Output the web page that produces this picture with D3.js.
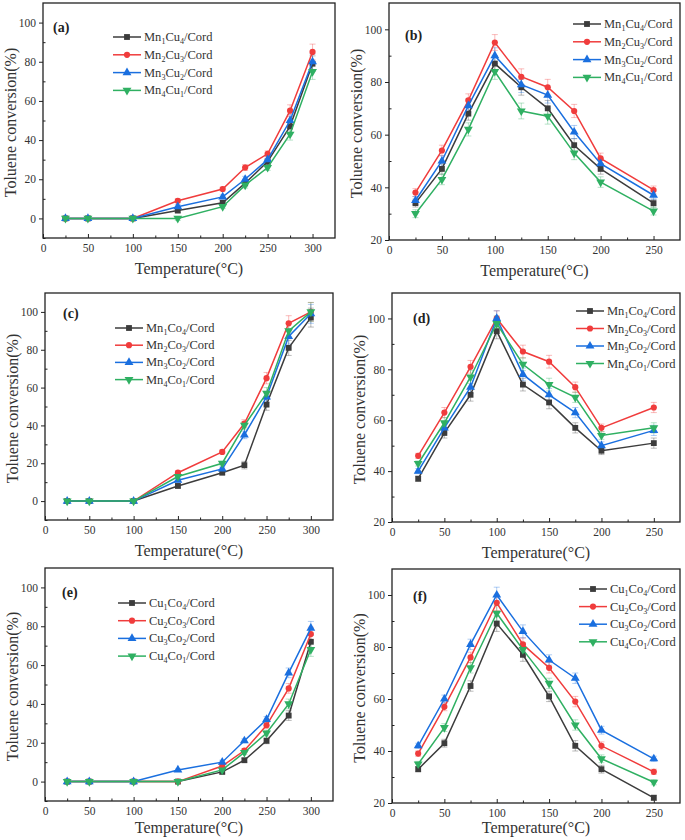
<!DOCTYPE html>
<html>
<head>
<meta charset="utf-8">
<script src="https://cdn.jsdelivr.net/npm/d3@7"></script>
<style>
  html, body { margin: 0; padding: 0; background: #fff; }
  svg { display: block; }
</style>
</head>
<body>
<svg id="chart" width="685" height="840"></svg>
<script>
// temperatures (°C)
const tempRise = [25, 50, 100, 150, 200, 225, 250, 275, 300];
const tempCycle = [25, 50, 75, 100, 125, 150, 175, 200, 250];

// (a) Mn-Cu, light-off
const aNames = ["Mn1Cu4/Cord", "Mn2Cu3/Cord", "Mn3Cu2/Cord", "Mn4Cu1/Cord"];
const aMn1Cu4 = [0, 0, 0, 4, 8, 18, 29, 47, 79];
const aMn2Cu3 = [0, 0, 0, 9, 15, 26, 33, 55, 85];
const aMn3Cu2 = [0, 0, 0, 6, 11, 20, 30, 50, 80];
const aMn4Cu1 = [0, 0, 0, 0, 6, 17, 26, 43, 75];
const aErr = [0, 0, 0, 1, 1, 1.5, 1.5, 3, 4];

// (b) Mn-Cu
const bMn1Cu4 = [34, 47, 68, 87, 78, 70, 56, 47, 34];
const bMn2Cu3 = [38, 54, 73, 95, 82, 78, 69, 51, 39];
const bMn3Cu2 = [35, 50, 71, 90, 79, 75, 61, 49, 37];
const bMn4Cu1 = [30, 43, 62, 84, 69, 67, 53, 42, 31];
const bErr = [1.5, 2, 2.5, 3, 3, 3, 2.5, 2, 1.5];

// (c) Mn-Co, light-off
const cNames = ["Mn1Co4/Cord", "Mn2Co3/Cord", "Mn3Co2/Cord", "Mn4Co1/Cord"];
const cMn1Co4 = [0, 0, 0, 8, 15, 19, 51, 81, 97];
const cMn2Co3 = [0, 0, 0, 15, 26, 41, 65, 94, 100];
const cMn3Co2 = [0, 0, 0, 11, 17, 35, 55, 87, 99];
const cMn4Co1 = [0, 0, 0, 13, 20, 40, 57, 90, 100];
const cErr = [0, 0, 0, 1, 1, 2, 3, 4, 5];

// (d) Mn-Co
const dMn1Co4 = [37, 55, 70, 95, 74, 67, 57, 48, 51];
const dMn2Co3 = [46, 63, 81, 100, 87, 83, 73, 57, 65];
const dMn3Co2 = [40, 57, 73, 100, 78, 70, 63, 50, 56];
const dMn4Co1 = [43, 59, 77, 98, 82, 74, 69, 54, 57];
const dErr = [1, 2, 2.5, 3, 2.5, 2.5, 2, 1.5, 2];

// (e) Cu-Co, light-off
const eNames = ["Cu1Co4/Cord", "Cu2Co3/Cord", "Cu3Co2/Cord", "Cu4Co1/Cord"];
const eCu1Co4 = [0, 0, 0, 0, 5, 11, 21, 34, 72];
const eCu2Co3 = [0, 0, 0, 0, 8, 16, 29, 48, 76];
const eCu3Co2 = [0, 0, 0, 6, 10, 21, 32, 56, 79];
const eCu4Co1 = [0, 0, 0, 0, 6, 15, 25, 40, 68];
const eErr = [0, 0, 0, 0.5, 1, 1, 1.5, 2.5, 3.5];

// (f) Cu-Co
const fCu1Co4 = [33, 43, 65, 89, 77, 61, 42, 33, 22];
const fCu2Co3 = [39, 57, 76, 97, 81, 72, 59, 42, 32];
const fCu3Co2 = [42, 60, 81, 100, 86, 75, 68, 48, 37];
const fCu4Co1 = [35, 49, 72, 93, 79, 66, 50, 37, 28];
const fErr = [1, 1.5, 2, 3, 2.5, 2, 2, 1.5, 1];

const xTicksRise = [0, 50, 100, 150, 200, 250, 300];
const xTicksCycle = [0, 50, 100, 150, 200, 250];
const yTicksRise = [0, 20, 40, 60, 80, 100];
const yTicksCycle = [20, 40, 60, 80, 100];

const colors = ["#3c3c3c", "#f03c3c", "#1a6fdf", "#2fb062"];
const symbols = [d3.symbolSquare, d3.symbolCircle, d3.symbolTriangle, d3.symbolTriangle];
const serif = "'Liberation Serif', 'Times New Roman', serif";

const panels = [
  {tag: "(a)", x: tempRise, series: [aMn1Cu4, aMn2Cu3, aMn3Cu2, aMn4Cu1], names: aNames, err: aErr,
   xDom: [0, 325], yDom: [-10, 110], xt: xTicksRise, yt: yTicksRise,
   box: [43, 3, 335, 238], tagAt: [10, 29], leg: [70, 34, 17.8]},
  {tag: "(b)", x: tempCycle, series: [bMn1Cu4, bMn2Cu3, bMn3Cu2, bMn4Cu1], names: aNames, err: bErr,
   xDom: [0, 275], yDom: [20, 110], xt: xTicksCycle, yt: yTicksCycle,
   box: [389, 3, 680, 240], tagAt: [16, 37], leg: [184, 21, 17.8]},
  {tag: "(c)", x: tempRise, series: [cMn1Co4, cMn2Co3, cMn3Co2, cMn4Co1], names: cNames, err: cErr,
   xDom: [0, 325], yDom: [-10, 110], xt: xTicksRise, yt: yTicksRise,
   box: [45, 293, 333, 520], tagAt: [18, 25], leg: [70, 35, 17.2]},
  {tag: "(d)", x: tempCycle, series: [dMn1Co4, dMn2Co3, dMn3Co2, dMn4Co1], names: cNames, err: dErr,
   xDom: [0, 275], yDom: [20, 110], xt: xTicksCycle, yt: yTicksCycle,
   box: [392, 293, 680, 522], tagAt: [21, 30], leg: [184, 18, 17.5]},
  {tag: "(e)", x: tempRise, series: [eCu1Co4, eCu2Co3, eCu3Co2, eCu4Co1], names: eNames, err: eErr,
   xDom: [0, 325], yDom: [-10, 110], xt: xTicksRise, yt: yTicksRise,
   box: [45, 568, 333, 801], tagAt: [17, 29], leg: [73, 35, 17.7]},
  {tag: "(f)", x: tempCycle, series: [fCu1Co4, fCu2Co3, fCu3Co2, fCu4Co1], names: eNames, err: fErr,
   xDom: [0, 275], yDom: [20, 110], xt: xTicksCycle, yt: yTicksCycle,
   box: [392, 569, 680, 803], tagAt: [21, 32], leg: [187, 20, 17.6]}
];

const svg = d3.select("#chart");

// label text with the digits as subscripts
const subLabel = (sel, label) => {
  label.split(/(\d)/).filter(s => s.length).forEach(part => {
    const t = sel.append("tspan").text(part);
    if (/\d/.test(part)) t.attr("font-size", 8).attr("dy", 3);
    else if (sel.selectAll("tspan").size() > 1) t.attr("dy", -3);
  });
};

const drawMarker = (g, k, cx, cy) => {
  const sym = d3.symbol().type(symbols[k]).size(k === 1 ? 30 : 34);
  g.append("path")
    .attr("d", sym())
    .attr("transform", `translate(${cx},${cy})${k === 3 ? " rotate(180)" : ""}`)
    .attr("fill", colors[k]);
};

panels.forEach(p => {
  const [x0, y0, x1, y1] = p.box;
  const g = svg.append("g");

  const x = d3.scaleLinear().domain(p.xDom).range([x0, x1]);
  const y = d3.scaleLinear().domain(p.yDom).range([y1, y0]);

  // minor ticks
  const xMinor = d3.range(p.xDom[0], p.xDom[1], 25).filter(v => v % 50 !== 0);
  const yMinor = d3.range(p.yDom[0], p.yDom[1], 10).filter(v => v % 20 !== 0);

  g.append("g")
    .attr("transform", `translate(0,${y1})`)
    .call(d3.axisBottom(x).tickValues(p.xt).tickSize(-4).tickPadding(6).tickSizeOuter(0));
  g.append("g")
    .attr("transform", `translate(0,${y1})`)
    .call(d3.axisBottom(x).tickValues(xMinor).tickSize(-2.5).tickFormat("").tickSizeOuter(0));

  g.append("g")
    .attr("transform", `translate(${x0},0)`)
    .call(d3.axisLeft(y).tickValues(p.yt).tickSize(4).tickPadding(3).tickSizeOuter(0));
  g.append("g")
    .attr("transform", `translate(${x0},0)`)
    .call(d3.axisLeft(y).tickValues(yMinor).tickSize(-2.5).tickFormat("").tickSizeOuter(0));

  g.selectAll(".tick line").attr("stroke", "#222").attr("stroke-width", 1);
  g.selectAll(".domain").remove();
  g.selectAll(".tick text")
    .attr("font-family", serif)
    .attr("font-size", 11.5)
    .attr("fill", "#333");

  // frame
  g.append("rect")
    .attr("x", x0).attr("y", y0)
    .attr("width", x1 - x0).attr("height", y1 - y0)
    .attr("fill", "none")
    .attr("stroke", "#222")
    .attr("stroke-width", 1.3);

  // axis titles
  g.append("text")
    .attr("x", (x0 + x1) / 2)
    .attr("y", Math.min(y1 + 36, 833))
    .attr("text-anchor", "middle")
    .attr("font-family", serif)
    .attr("font-size", 16)
    .attr("fill", "#333")
    .text("Temperature(°C)");

  g.append("text")
    .attr("transform", `translate(${x0 - 27},${(y0 + y1) / 2 + 2}) rotate(-90)`)
    .attr("text-anchor", "middle")
    .attr("font-family", serif)
    .attr("font-size", 16)
    .attr("fill", "#333")
    .text("Toluene conversion(%)");

  // error bars
  p.series.forEach((vals, k) => {
    const eg = g.append("g")
      .attr("stroke", colors[k])
      .attr("stroke-opacity", 0.35)
      .attr("stroke-width", 1);
    vals.forEach((v, i) => {
      const e = p.err[i];
      if (!e) return;
      const cx = x(p.x[i]);
      eg.append("line").attr("x1", cx).attr("x2", cx).attr("y1", y(v - e)).attr("y2", y(v + e));
      eg.append("line").attr("x1", cx - 3).attr("x2", cx + 3).attr("y1", y(v + e)).attr("y2", y(v + e));
      eg.append("line").attr("x1", cx - 3).attr("x2", cx + 3).attr("y1", y(v - e)).attr("y2", y(v - e));
    });
  });

  // lines and markers
  const line = d3.line().x(d => x(d[0])).y(d => y(d[1]));
  p.series.forEach((vals, k) => {
    const pts = vals.map((v, i) => [p.x[i], v]);
    g.append("path")
      .datum(pts)
      .attr("fill", "none")
      .attr("stroke", colors[k])
      .attr("stroke-width", 1.5)
      .attr("d", line);
    pts.forEach(d => drawMarker(g, k, x(d[0]), y(d[1])));
  });

  // panel tag
  g.append("text")
    .attr("x", x0 + p.tagAt[0])
    .attr("y", y0 + p.tagAt[1])
    .attr("font-family", serif)
    .attr("font-size", 14)
    .attr("font-weight", "bold")
    .attr("fill", "#222")
    .text(p.tag);

  // legend
  const [lx, ly, step] = p.leg;
  p.names.forEach((name, k) => {
    const ry = y0 + ly + k * step;
    g.append("line")
      .attr("x1", x0 + lx).attr("x2", x0 + lx + 28)
      .attr("y1", ry).attr("y2", ry)
      .attr("stroke", colors[k])
      .attr("stroke-width", 1.5);
    drawMarker(g, k, x0 + lx + 14, ry);
    const t = g.append("text")
      .attr("x", x0 + lx + 31)
      .attr("y", ry + 4)
      .attr("font-family", serif)
      .attr("font-size", 12.5)
      .attr("fill", "#333");
    subLabel(t, name);
  });
});
</script>
</body>
</html>
